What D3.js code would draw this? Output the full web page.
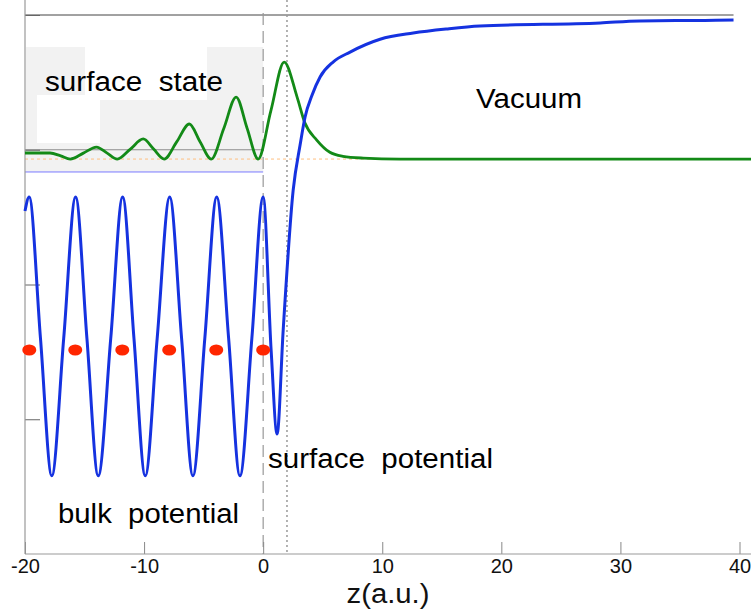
<!DOCTYPE html>
<html>
<head>
<meta charset="utf-8">
<script src="https://cdn.jsdelivr.net/npm/d3@7"></script>
<style>
  body { margin: 0; background: #fff; }
  text { font-family: "Liberation Sans", Arial, sans-serif; }
</style>
</head>
<body>
<svg id="chart" width="751" height="610"></svg>
<script>
// x ticks of the z axis
const xTicks = [-20, -10, 0, 10, 20, 30, 40];
// unlabelled y ticks
const yTicks = [1, 2, 3, 4];

// potential (blue): bulk oscillation, surface dip, then vacuum level
const potential = [
  [-20, 2.545], [-19.65, 2.65], [-18.7, 1.6], [-17.75, 0.58], [-16.75, 1.6],
  [-15.75, 2.65], [-14.8, 1.6], [-13.85, 0.58], [-12.8, 1.6], [-11.8, 2.65],
  [-10.85, 1.6], [-9.9, 0.58], [-8.9, 1.6], [-7.85, 2.65], [-6.85, 1.6],
  [-5.9, 0.58], [-4.9, 1.6], [-3.9, 2.65], [-2.9, 1.6], [-1.95, 0.58],
  [-0.95, 1.6], [0, 2.65], [0.67, 1.51], [1.17, 0.89], [1.68, 1.66],
  [2.52, 2.70], [3.1, 3.035], [3.52, 3.243], [4.11, 3.406], [4.78, 3.54],
  [5.87, 3.651], [7.3, 3.725], [9.82, 3.82], [12.6, 3.866], [15.4, 3.896],
  [18.2, 3.918], [28.3, 3.941], [31.6, 3.956], [37.1, 3.96], [39.5, 3.963]
];

// surface state density (green)
const surfaceState = [
  [-20, 2.976], [-17.9, 2.976], [-17.0, 2.955], [-16.2, 2.931], [-15.1, 2.975],
  [-14.0, 3.02], [-13.1, 2.975], [-12.25, 2.931], [-11.15, 3.005], [-10.07, 3.08],
  [-9.2, 3.005], [-8.31, 2.931], [-7.25, 3.06], [-6.2, 3.191], [-5.3, 3.06],
  [-4.36, 2.931], [-3.3, 3.16], [-2.27, 3.391], [-1.35, 3.16], [-0.42, 2.931],
  [0.65, 3.29], [1.76, 3.651], [2.85, 3.391], [3.5, 3.2], [4.5, 3.072],
  [5.6, 2.981], [6.7, 2.951], [8.4, 2.938], [11.5, 2.931], [41, 2.931]
];

// atom positions (red dots)
const atomZ = [-19.64, -15.78, -11.83, -7.89, -3.94, 0];
const atomLevel = 1.514;

// reference levels
const energyLevel = 2.931;   // orange dashed
const surfacePlane = 0;      // dashed vertical
const imagePlane = 2.0;      // dotted vertical

const svg = d3.select("#chart");

// scales
const x = d3.scaleLinear().domain([-20, 40]).range([25, 739.5]);
const y = d3.scaleLinear().domain([0, 4]).range([554, 15]);

// light grey backdrop behind the surface state, with white label cutouts
svg.append("rect")
  .attr("x", x(-20) + 1).attr("y", y(3.763))
  .attr("width", x(0) - x(-20) - 1).attr("height", y(2.835) - y(3.763))
  .attr("fill", "#f2f2f2");
svg.append("rect")
  .attr("x", 85).attr("y", y(3.763))
  .attr("width", 122).attr("height", 53)
  .attr("fill", "#fff");
svg.append("rect")
  .attr("x", 37).attr("y", 95)
  .attr("width", 63).attr("height", 48)
  .attr("fill", "#fff");

// top frame line
svg.append("line")
  .attr("x1", x(-20)).attr("x2", x(39.5))
  .attr("y1", y(4)).attr("y2", y(4))
  .attr("stroke", "#444").attr("stroke-width", 1);

// short grey and blue lines in the surface state box
svg.append("line")
  .attr("x1", x(-20)).attr("x2", x(0))
  .attr("y1", y(3)).attr("y2", y(3))
  .attr("stroke", "#8c8c8c").attr("stroke-width", 1);
svg.append("line")
  .attr("x1", x(-20)).attr("x2", x(0))
  .attr("y1", y(2.835)).attr("y2", y(2.835))
  .attr("stroke", "#7a7aff").attr("stroke-width", 1);

// energy level
svg.append("line")
  .attr("x1", x(-20)).attr("x2", 751)
  .attr("y1", y(energyLevel)).attr("y2", y(energyLevel))
  .attr("stroke", "#ffbf80").attr("stroke-width", 1)
  .attr("stroke-dasharray", "3,3");

// surface plane and image plane
svg.append("line")
  .attr("x1", x(surfacePlane)).attr("x2", x(surfacePlane))
  .attr("y1", 13).attr("y2", y(0))
  .attr("stroke", "#999").attr("stroke-width", 1.2)
  .attr("stroke-dasharray", "12,6");
svg.append("line")
  .attr("x1", x(imagePlane)).attr("x2", x(imagePlane))
  .attr("y1", 0).attr("y2", y(0))
  .attr("stroke", "#999").attr("stroke-width", 1.5)
  .attr("stroke-dasharray", "2,3");

// axes
let xAxis = d3.axisBottom(x)
  .tickValues(xTicks)
  .tickSizeInner(-12)
  .tickSizeOuter(0)
  .tickPadding(5)
  .tickFormat(d3.format("d"));

let gx = svg.append("g")
  .attr("transform", `translate(0,${y(0)})`)
  .call(xAxis);
gx.select(".domain").remove();
gx.selectAll(".tick line").attr("stroke", "#888");
gx.selectAll(".tick text")
  .attr("font-size", 20)
  .attr("font-family", "Liberation Sans, Arial, sans-serif")
  .attr("fill", "#111")
  .text(d => d < 0 ? "-" + Math.abs(d) : d);

svg.append("line")
  .attr("x1", x(-20)).attr("x2", 751)
  .attr("y1", y(0)).attr("y2", y(0))
  .attr("stroke", "#999").attr("stroke-width", 1.2);

let yAxis = d3.axisLeft(y)
  .tickValues(yTicks)
  .tickSizeInner(-15)
  .tickSizeOuter(0)
  .tickFormat("");

let gy = svg.append("g")
  .attr("transform", `translate(${x(-20)},0)`)
  .call(yAxis);
gy.select(".domain").remove();
gy.selectAll(".tick line").attr("stroke", "#666");

svg.append("line")
  .attr("x1", x(-20)).attr("x2", x(-20))
  .attr("y1", 0).attr("y2", y(0))
  .attr("stroke", "#999").attr("stroke-width", 1.2);

// curves
let line = d3.line()
  .x(d => x(d[0]))
  .y(d => y(d[1]))
  .curve(d3.curveMonotoneX);

svg.append("path")
  .datum(surfaceState)
  .attr("d", line)
  .attr("fill", "none")
  .attr("stroke", "#138a17")
  .attr("stroke-width", 2.8);

svg.append("path")
  .datum(potential)
  .attr("d", line)
  .attr("fill", "none")
  .attr("stroke", "#1532e0")
  .attr("stroke-width", 3);

// atoms
svg.selectAll(".atom")
  .data(atomZ)
  .enter()
  .append("ellipse")
  .attr("class", "atom")
  .attr("cx", d => x(d))
  .attr("cy", y(atomLevel))
  .attr("rx", 7)
  .attr("ry", 5.5)
  .attr("fill", "#ff2600");

// labels
const labels = [
  {text: "surface  state", x: 45, y: 91, len: 178},
  {text: "Vacuum", x: 476, y: 108, len: 106},
  {text: "surface  potential", x: 268, y: 468, len: 225},
  {text: "bulk  potential", x: 58, y: 523, len: 181}
];
svg.selectAll(".label")
  .data(labels)
  .enter()
  .append("text")
  .attr("class", "label")
  .attr("x", d => d.x)
  .attr("y", d => d.y)
  .attr("font-size", 27)
  .attr("fill", "#000")
  .attr("textLength", d => d.len)
  .attr("lengthAdjust", "spacingAndGlyphs")
  .style("white-space", "pre")
  .text(d => d.text);

// axis title
svg.append("text")
  .attr("x", 388)
  .attr("y", 603)
  .attr("text-anchor", "middle")
  .attr("font-size", 27)
  .attr("fill", "#111")
  .attr("textLength", 83)
  .attr("lengthAdjust", "spacingAndGlyphs")
  .text("z(a.u.)");
</script>
</body>
</html>
